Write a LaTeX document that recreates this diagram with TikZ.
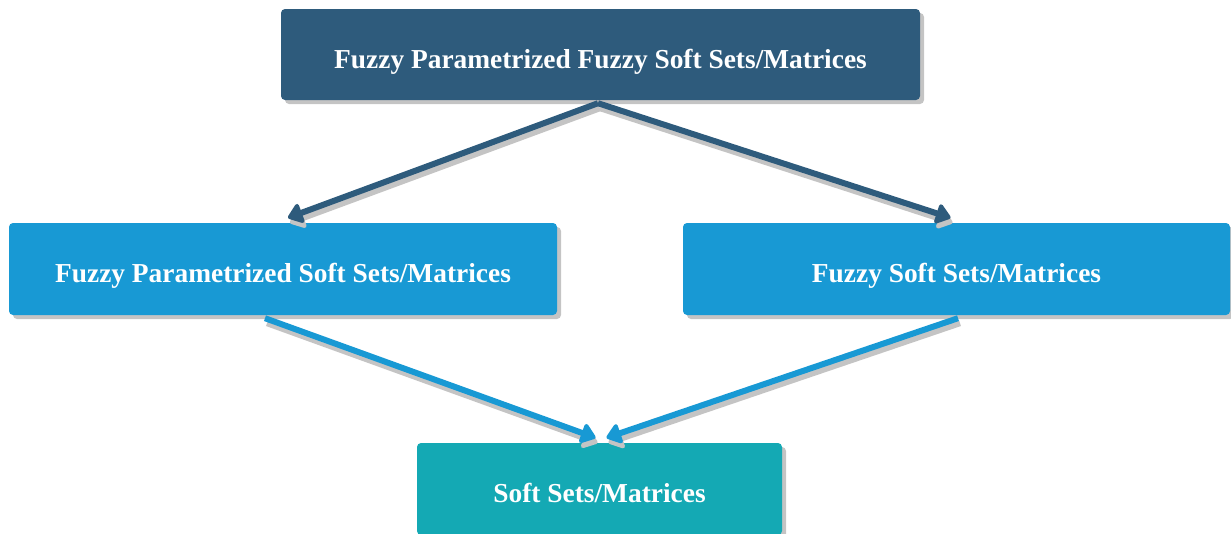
\documentclass[tikz,border=0pt]{standalone}
\usepackage{fontspec}
\setmainfont{Liberation Serif}
\usetikzlibrary{arrows.meta,calc,shadows}
\definecolor{topblue}{HTML}{2E5B7C}
\definecolor{midblue}{HTML}{1899D4}
\definecolor{teal}{HTML}{14A9B4}
\definecolor{shade}{HTML}{C4C4C4}
\tikzset{
  box/.style={rounded corners=4pt, minimum height=91pt, inner sep=0pt,
    text height=29pt, text depth=2pt,
    text=white, font=\fontsize{27.4}{30}\selectfont\bfseries,
    drop shadow={shadow xshift=4pt, shadow yshift=-4pt, fill=shade, opacity=1}},
  link/.style={line width=6pt, -{Triangle[length=16pt,width=23pt,round]}},
}
\begin{document}
\begin{tikzpicture}[x=1pt,y=-1pt]
\useasboundingbox (0,0) rectangle (1231,533);
\node[box, fill=topblue, minimum width=639pt] (top) at (600.5,54.5) {Fuzzy Parametrized Fuzzy Soft Sets/Matrices};
\node[box, fill=midblue, minimum width=548pt, minimum height=92pt] (left) at (283,269) {Fuzzy Parametrized Soft Sets/Matrices};
\node[box, fill=midblue, minimum width=547pt, minimum height=92pt] (right) at (956.5,269) {Fuzzy Soft Sets/Matrices};
\node[box, fill=teal, minimum width=365pt, minimum height=92pt] (bot) at (599.5,489) {Soft Sets/Matrices};
% connector end points
\coordinate (fork) at ($(top.south)+(-2.5,3)$);
\coordinate (inL) at ($(left.north)+(5,-5)$);
\coordinate (inR) at ($(right.north)+(-6,-5)$);
\coordinate (outL) at ($(left.south)+(-18,3)$);
\coordinate (outR) at ($(right.south)+(1.5,3)$);
\coordinate (joinL) at ($(bot.north)+(-4,-5)$);
\coordinate (joinR) at ($(bot.north)+(7,-5)$);
% grey shadows under the connectors
\begin{scope}[transform canvas={xshift=2pt,yshift=-5pt}]
  \draw[link, draw=shade] (fork) -- (inL);
  \draw[link, draw=shade] (fork) -- (inR);
  \draw[link, draw=shade] (outL) -- (joinL);
  \draw[link, draw=shade] (outR) -- (joinR);
\end{scope}
\draw[link, draw=topblue] (fork) -- (inL);
\draw[link, draw=topblue] (fork) -- (inR);
\draw[link, draw=midblue] (outL) -- (joinL);
\draw[link, draw=midblue] (outR) -- (joinR);
\end{tikzpicture}
\end{document}
